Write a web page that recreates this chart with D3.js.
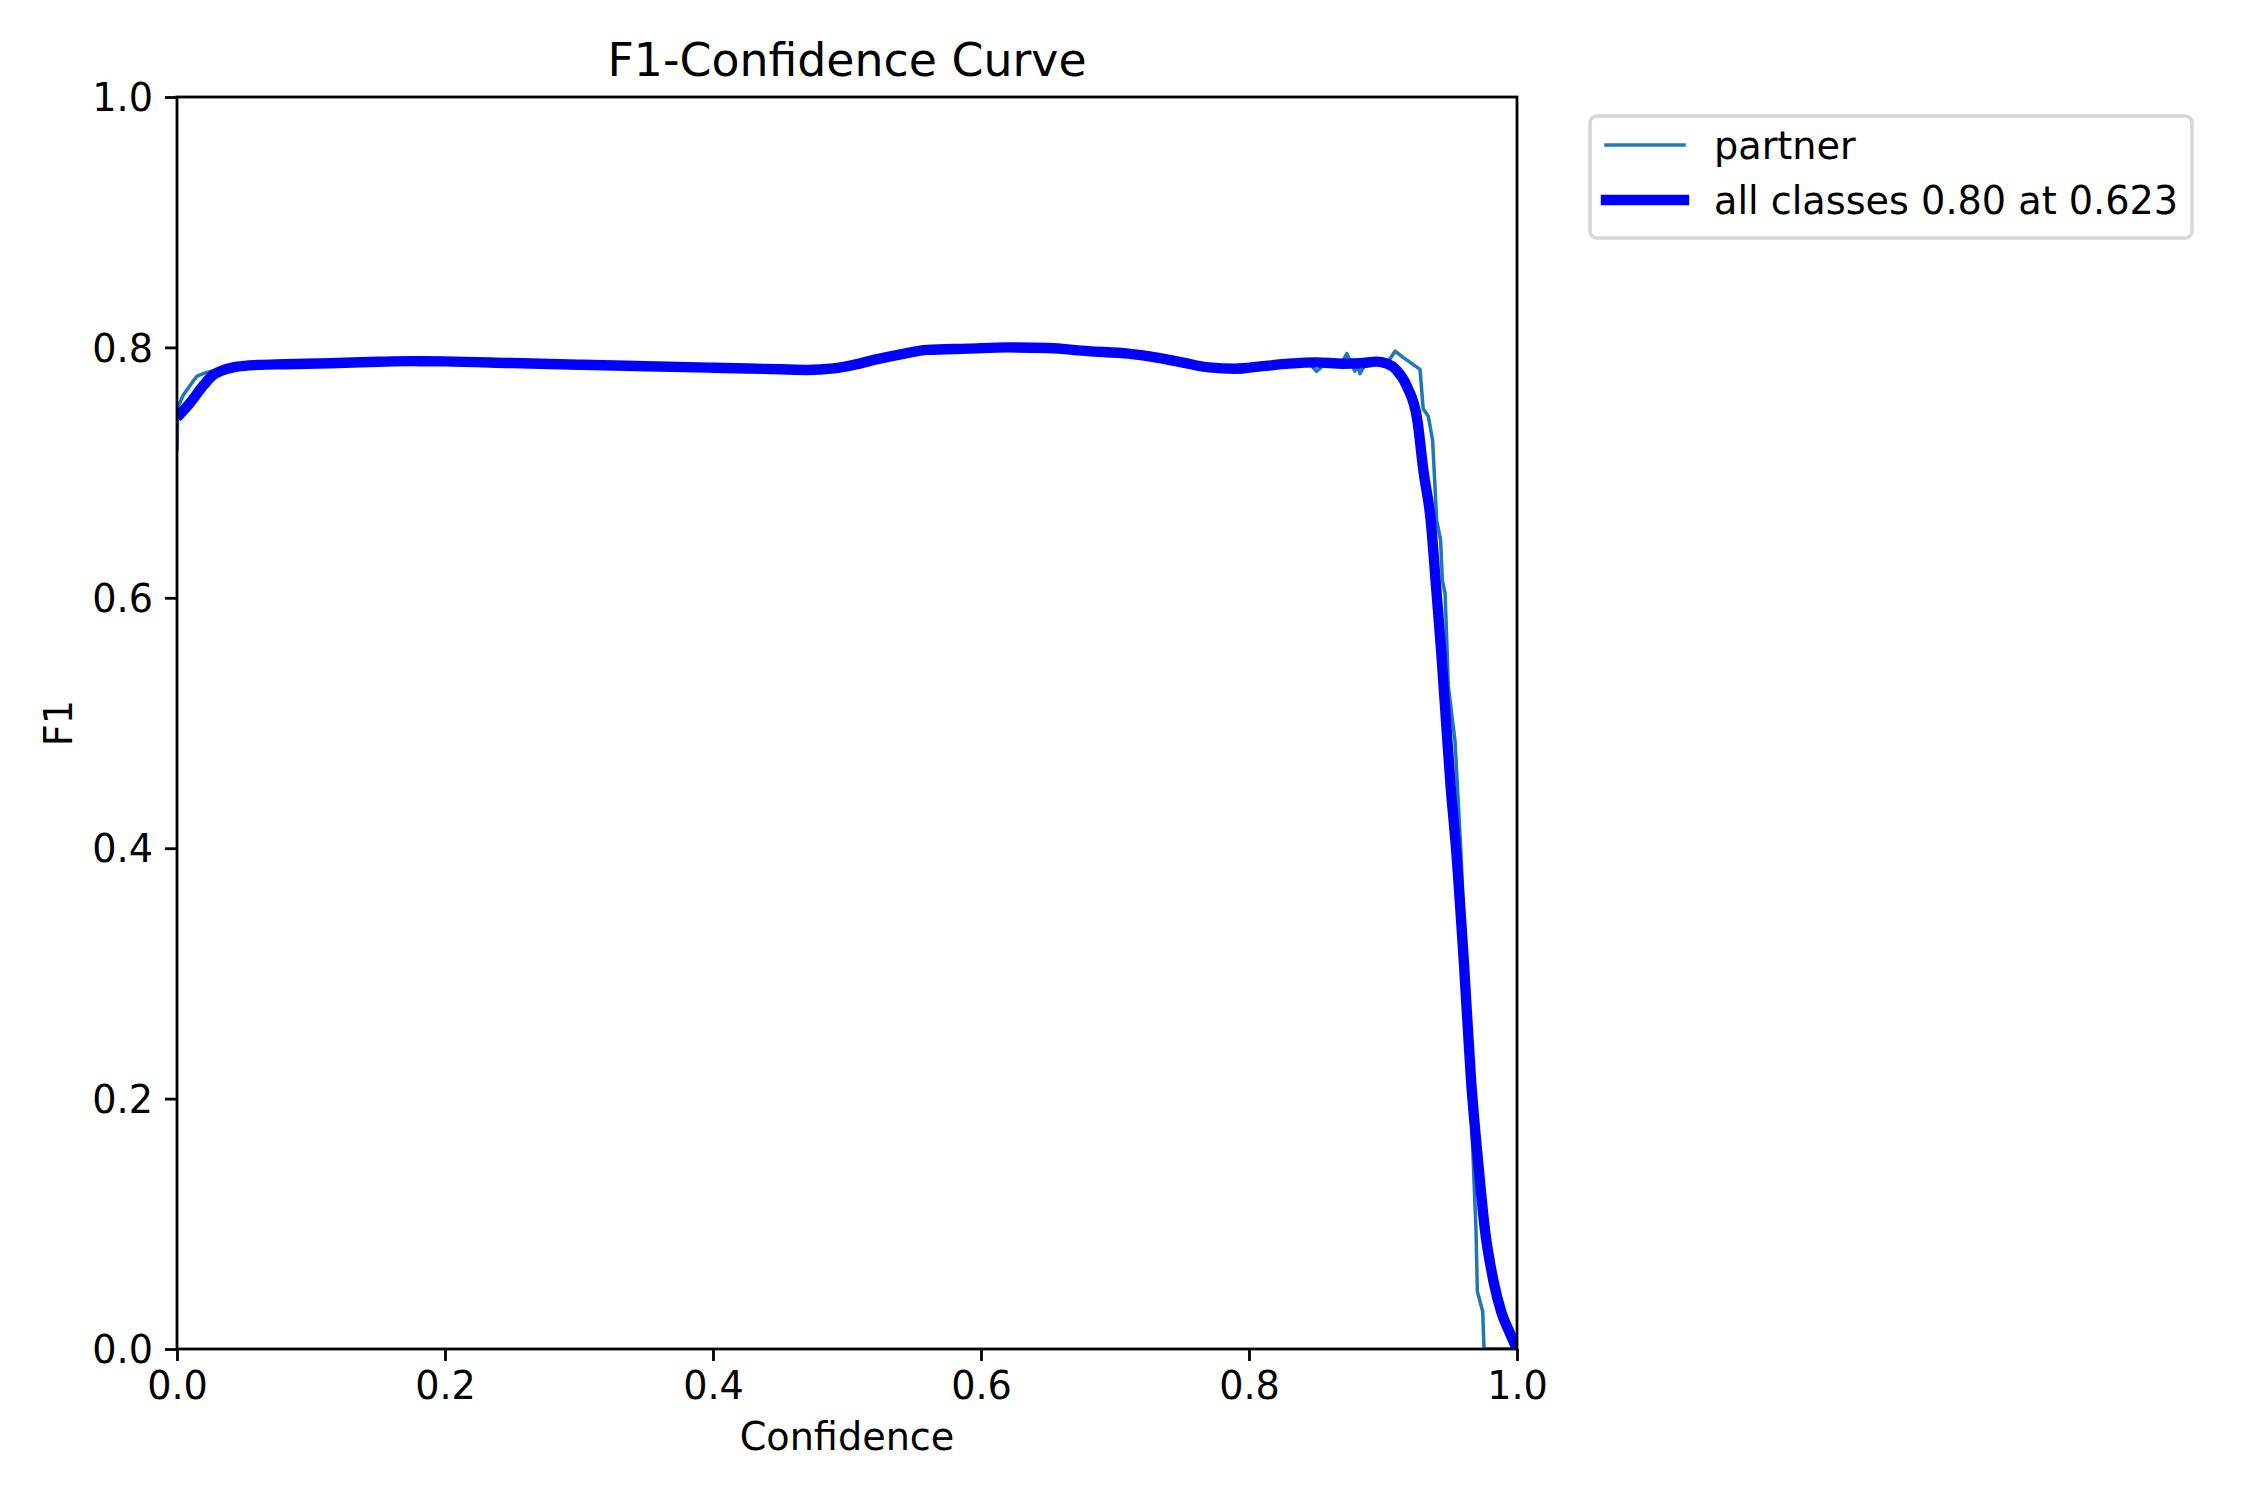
<!DOCTYPE html>
<html>
<head>
<meta charset="utf-8">
<script src="https://cdn.jsdelivr.net/npm/d3@7"></script>
<style>
    body { margin: 0; background: #fff; }
    text { font-family: "DejaVu Sans", sans-serif; fill: #000; }
</style>
</head>
<body>
<div id="chart"></div>
<script>
// per-class curve (thin)
const partner_conf = [0.000, 0.0005, 0.001, 0.0047, 0.012, 0.015, 0.022, 0.030, 0.045, 0.060, 0.080, 0.114,
    0.150, 0.175, 0.200, 0.250, 0.300, 0.350, 0.400, 0.450, 0.470, 0.490, 0.505, 0.520, 0.540, 0.560,
    0.590, 0.620, 0.650, 0.680, 0.710, 0.730, 0.750, 0.770, 0.785, 0.794, 0.800, 0.810, 0.830, 0.845,
    0.8505, 0.856, 0.865, 0.870, 0.873, 0.876, 0.879, 0.881, 0.8828, 0.886, 0.890, 0.898, 0.904, 0.909,
    0.915, 0.9276, 0.930, 0.9338, 0.937, 0.9388, 0.940, 0.943, 0.9443, 0.9463, 0.9488, 0.9537, 0.958,
    0.962, 0.9649, 0.9674, 0.9694, 0.9704, 0.9744, 0.9754, 1.000];
const partner_f1 = [0.717, 0.745, 0.753, 0.762, 0.773, 0.777, 0.780, 0.782, 0.7846, 0.786, 0.7866, 0.7873,
    0.7885, 0.789, 0.7888, 0.7875, 0.7862, 0.785, 0.7838, 0.7825, 0.782, 0.7832, 0.786, 0.790, 0.7945, 0.798,
    0.799, 0.800, 0.7995, 0.797, 0.795, 0.792, 0.788, 0.784, 0.783, 0.780, 0.783, 0.785, 0.787, 0.787,
    0.781, 0.786, 0.787, 0.789, 0.795, 0.788, 0.781, 0.786, 0.779, 0.785, 0.787, 0.789, 0.789, 0.797,
    0.792, 0.7825, 0.751, 0.745, 0.726, 0.689, 0.662, 0.646, 0.614, 0.604, 0.529, 0.486, 0.400,
    0.300, 0.215, 0.148, 0.095, 0.046, 0.030, 0.000, 0.000];

// all classes curve (thick)
const all_conf = [0.000, 0.010, 0.020, 0.027, 0.035, 0.045, 0.060, 0.080, 0.114, 0.150, 0.175, 0.200,
    0.250, 0.300, 0.350, 0.400, 0.450, 0.470, 0.490, 0.505, 0.520, 0.540, 0.560, 0.590, 0.620, 0.650,
    0.680, 0.710, 0.730, 0.750, 0.770, 0.790, 0.810, 0.830, 0.850, 0.870, 0.883, 0.895, 0.903, 0.910,
    0.918, 0.9256, 0.9301, 0.9356, 0.9396, 0.9435, 0.947, 0.9505, 0.954, 0.9604, 0.9657, 0.9711,
    0.9761, 0.9823, 0.9886, 0.9948, 1.000];
const all_f1 = [0.744, 0.756, 0.770, 0.778, 0.782, 0.7846, 0.786, 0.7866, 0.7873, 0.7885, 0.789, 0.7888,
    0.7875, 0.7862, 0.785, 0.7838, 0.7825, 0.782, 0.7832, 0.786, 0.790, 0.7945, 0.798, 0.799, 0.800, 0.7995,
    0.797, 0.795, 0.792, 0.788, 0.784, 0.783, 0.785, 0.787, 0.788, 0.787, 0.7873, 0.7886, 0.787, 0.782,
    0.7686, 0.742, 0.702, 0.662, 0.609, 0.556, 0.502, 0.449, 0.4066, 0.308, 0.215, 0.148,
    0.095, 0.055, 0.0285, 0.0125, 0.000];

const ticks = [0.0, 0.2, 0.4, 0.6, 0.8, 1.0];
const legend_labels = ["partner", "all classes 0.80 at 0.623"];

const W = 2250, H = 1500;
const margin = { top: 97, right: 733, bottom: 151, left: 177 };
const w = W - margin.left - margin.right;
const h = H - margin.top - margin.bottom;
const fs = 38.2;

const svg = d3.select("#chart").append("svg")
    .attr("width", W)
    .attr("height", H);

const g = svg.append("g")
    .attr("transform", `translate(${margin.left},${margin.top})`);

const x = d3.scaleLinear().domain([0, 1]).range([0, w]);
const y = d3.scaleLinear().domain([0, 1]).range([h, 0]);

g.append("clipPath").attr("id", "clip")
    .append("rect").attr("width", w).attr("height", h);

// curves
const line = d3.line().x(d => x(d[0])).y(d => y(d[1]));

g.append("path")
    .datum(d3.zip(partner_conf, partner_f1))
    .attr("clip-path", "url(#clip)")
    .attr("fill", "none")
    .attr("stroke", "#1f77b4")
    .attr("stroke-width", 3.5)
    .attr("stroke-linejoin", "round")
    .attr("d", line);

g.append("path")
    .datum(d3.zip(all_conf, all_f1))
    .attr("clip-path", "url(#clip)")
    .attr("fill", "none")
    .attr("stroke", "blue")
    .attr("stroke-width", 10.4)
    .attr("stroke-linejoin", "round")
    .attr("d", line.curve(d3.curveMonotoneX));

// axes
const xAxis = g.append("g")
    .attr("transform", `translate(0,${h})`)
    .call(d3.axisBottom(x).tickValues(ticks).tickFormat(d3.format(".1f")).tickSize(12).tickPadding(12));
const yAxis = g.append("g")
    .call(d3.axisLeft(y).tickValues(ticks).tickFormat(d3.format(".1f")).tickSize(12).tickPadding(12));

[xAxis, yAxis].forEach(a => {
    a.select(".domain").remove();
    a.selectAll(".tick line").attr("stroke", "#000").attr("stroke-width", 2.8);
    a.selectAll(".tick text").attr("font-size", fs).attr("font-family", "DejaVu Sans");
});
yAxis.selectAll(".tick text").attr("dy", "0.36em");
xAxis.selectAll(".tick text").attr("dy", "0.68em");

// frame
g.append("rect")
    .attr("width", w)
    .attr("height", h)
    .attr("fill", "none")
    .attr("stroke", "#000")
    .attr("stroke-width", 2.8);

// title and labels
svg.append("text")
    .attr("x", margin.left + w / 2)
    .attr("y", 76)
    .attr("text-anchor", "middle")
    .attr("font-size", 45.8)
    .text("F1-Confidence Curve");

svg.append("text")
    .attr("x", margin.left + w / 2)
    .attr("y", 1450)
    .attr("text-anchor", "middle")
    .attr("font-size", fs)
    .text("Confidence");

svg.append("text")
    .attr("transform", `translate(72,${margin.top + h / 2}) rotate(-90)`)
    .attr("text-anchor", "middle")
    .attr("font-size", fs)
    .text("F1");

// legend
const legend = svg.append("g").attr("transform", "translate(1590,116)");
legend.append("rect")
    .attr("width", 602)
    .attr("height", 122)
    .attr("rx", 7)
    .attr("fill", "#fff")
    .attr("fill-opacity", 0.8)
    .attr("stroke", "#cccccc")
    .attr("stroke-opacity", 0.8)
    .attr("stroke-width", 3.5);

const legend_style = [
    { color: "#1f77b4", width: 3.5, y: 29 },
    { color: "blue", width: 10.4, y: 84 }
];
legend_labels.forEach((label, i) => {
    const s = legend_style[i];
    legend.append("line")
        .attr("x1", 16).attr("x2", 94)
        .attr("y1", s.y).attr("y2", s.y)
        .attr("stroke", s.color)
        .attr("stroke-width", s.width)
        .attr("stroke-linecap", "square");
    legend.append("text")
        .attr("x", 124)
        .attr("y", s.y + 13.5)
        .attr("font-size", fs)
        .text(label);
});
</script>
</body>
</html>
